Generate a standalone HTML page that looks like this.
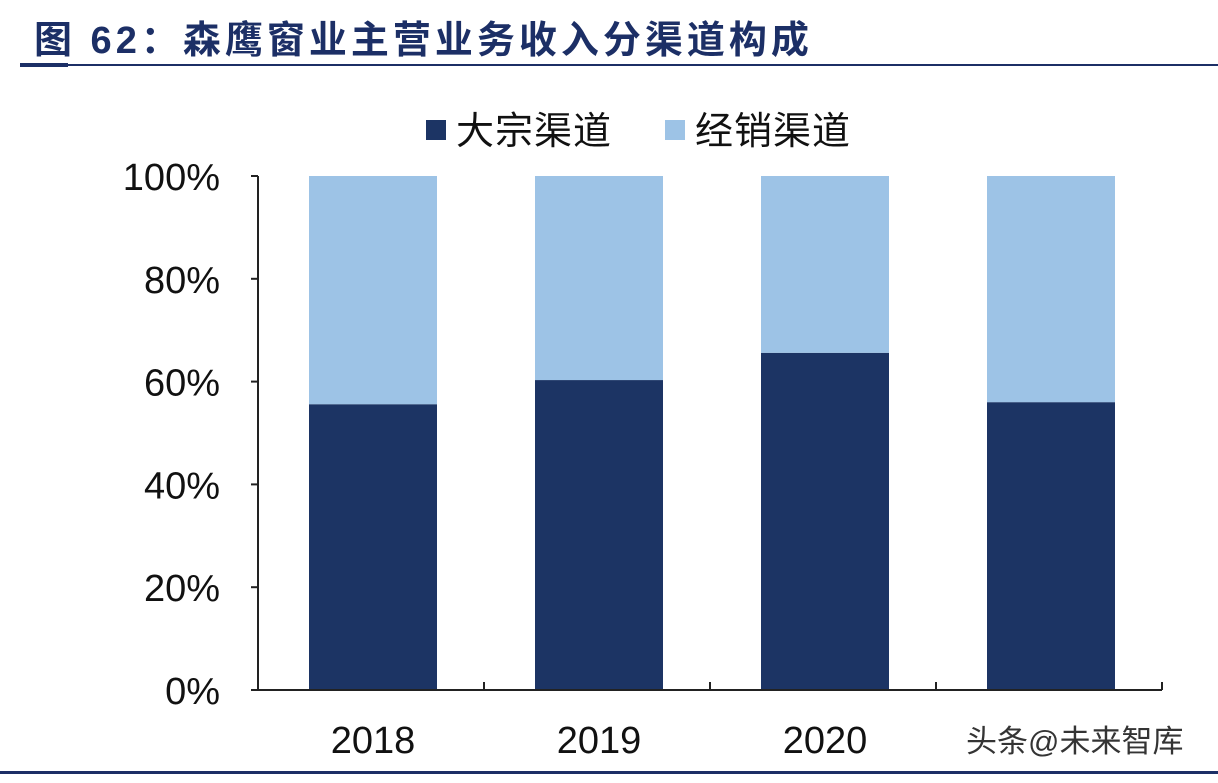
<!DOCTYPE html>
<html><head><meta charset="utf-8"><style>
body{margin:0;background:#fff;width:1218px;height:778px;overflow:hidden;font-family:"Liberation Sans","Noto Sans CJK SC",sans-serif}
</style></head><body>
<svg id="c" width="1218" height="778" xmlns="http://www.w3.org/2000/svg" font-family="Liberation Sans, Noto Sans CJK SC, sans-serif">
<text x="34" y="53" font-size="38" font-weight="bold" fill="#1c2f66" letter-spacing="4">图 62：森鹰窗业主营业务收入分渠道构成</text>
<rect x="20" y="64" width="1198" height="2" fill="#1c2f66"/>
<rect x="20" y="63" width="48" height="4" fill="#1c2f66"/>
<rect x="0" y="771" width="1218" height="3" fill="#1c2f66"/>
<g>
<rect x="426" y="120" width="20" height="20" fill="#1c3464"/>
<text x="456" y="144" font-size="38" fill="#111" letter-spacing="1">大宗渠道</text>
<rect x="665" y="120" width="20" height="20" fill="#9dc3e6"/>
<text x="695" y="144" font-size="38" fill="#111" letter-spacing="1">经销渠道</text>
</g>
<g id="plot"></g>
<text x="966" y="752" font-size="31" fill="#111" opacity="0.85">头条@未来智库</text>
</svg>
<script>
const categories=["2018","2019","2020","2021"];
const bulkValues=[55.6,60.3,65.6,56.0];
const dealerValues=[44.4,39.7,34.4,44.0];
const yTicks=[0,20,40,60,80,100];
const NS="http://www.w3.org/2000/svg";
const g=document.getElementById('plot');
const x0=258,x1=1162,y0=690,y1=176;
const bw=(x1-x0)/categories.length,barW=128;
const y=v=>y0-(v/100)*(y0-y1);
function mk(t,a){const e=document.createElementNS(NS,t);for(const k in a)e.setAttribute(k,a[k]);g.appendChild(e);return e;}
yTicks.forEach(v=>{
 const t=mk('text',{x:220,y:y(v)+14,'font-size':38,'text-anchor':'end',fill:'#111'});
 t.textContent=v+'%';
 
 
 const l=mk('line',{x1:x0-7,x2:x0,y1:y(v),y2:y(v),stroke:'#222','stroke-width':2});
 
 
});
categories.forEach((c,i)=>{
 const cx=x0+bw*(i+0.5)+2;
 const b=mk('rect',{x:cx-barW/2,y:y(bulkValues[i]),width:barW,height:y0-y(bulkValues[i]),fill:'#1c3464'});
 
 
 const d=mk('rect',{x:cx-barW/2,y:y(bulkValues[i]+dealerValues[i]),width:barW,height:y(bulkValues[i])-y(bulkValues[i]+dealerValues[i]),fill:'#9dc3e6'});
 
 
 if(i<3){const t=mk('text',{x:cx,y:753,'font-size':38,'text-anchor':'middle',fill:'#111'});
 t.textContent=c;
 
 }
});
for(let i=0;i<=categories.length;i++){
 const l=mk('line',{x1:x0+bw*i,x2:x0+bw*i,y1:y0,y2:y0-8,stroke:'#222','stroke-width':2});
 
 
}
const ax=mk('line',{x1:x0,x2:x0,y1:y1,y2:y0,stroke:'#222','stroke-width':2});


const bx=mk('line',{x1:x0,x2:x1,y1:y0,y2:y0,stroke:'#222','stroke-width':2});


</script>
</body></html>
